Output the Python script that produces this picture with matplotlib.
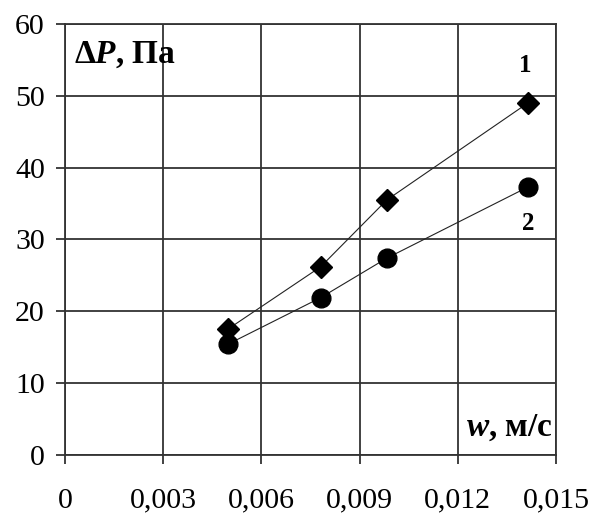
import matplotlib
matplotlib.use('Agg')
import matplotlib.pyplot as plt
from matplotlib.ticker import FuncFormatter

plt.rcParams['font.family'] = 'Liberation Serif'
plt.rcParams['mathtext.fontset'] = 'custom'
plt.rcParams['mathtext.rm'] = 'Liberation Serif:bold'
plt.rcParams['mathtext.it'] = 'Liberation Serif:bold:italic'
plt.rcParams['mathtext.bf'] = 'Liberation Serif:bold'

# data
w = [0.00497, 0.00781, 0.00983, 0.01414]      # m/s
dp_1 = [17.5, 26.2, 35.5, 49.0]               # curve 1, diamonds
dp_2 = [15.4, 21.9, 27.4, 37.3]               # curve 2, circles

x_ticks = [0, 0.003, 0.006, 0.009, 0.012, 0.015]
y_ticks = [0, 10, 20, 30, 40, 50, 60]

fig = plt.figure(figsize=(5.91, 5.13), dpi=100)
ax = fig.add_axes([0.110, 0.1131, 0.8308, 0.8401])

ax.plot(w, dp_1, color='#222222', linewidth=0.8, marker='D',
        markersize=11.5, markerfacecolor='black', markeredgecolor='black', zorder=3)
ax.plot(w, dp_2, color='#222222', linewidth=0.8, marker='o',
        markersize=13.5, markerfacecolor='black', markeredgecolor='black', zorder=3)

ax.set_xlim(0, 0.015)
ax.set_ylim(0, 60)
ax.set_xticks(x_ticks)
ax.set_yticks(y_ticks)
ax.xaxis.set_major_formatter(FuncFormatter(lambda v, p: '0' if v == 0 else ('%.3f' % v).replace('.', ',')))
ax.yaxis.set_major_formatter(FuncFormatter(lambda v, p: '%d' % v))

ax.grid(True, color='#333333', linewidth=1.3)
for s in ax.spines.values():
    s.set_color('#333333')
    s.set_linewidth(1.3)
ax.tick_params(axis='both', direction='out', length=6.5, width=1.3, color='#333333',
               labelsize=21.5)
ax.tick_params(axis='x', pad=17)
ax.tick_params(axis='y', pad=8)
ax.set_axisbelow(True)

ax.text(0.00027, 54.6, r'$\Delta P$, Па', fontsize=24, fontweight='bold',
        ha='left', va='baseline')
ax.text(0.0149, 2.65, r'$w$, м/с', fontsize=24, fontweight='bold',
        ha='right', va='baseline')
ax.text(0.01405, 53.3, '1', fontsize=18, fontweight='bold', ha='center', va='baseline')
ax.text(0.01414, 31.3, '2', fontsize=18, fontweight='bold', ha='center', va='baseline')

fig.savefig('out.png', dpi=100)
